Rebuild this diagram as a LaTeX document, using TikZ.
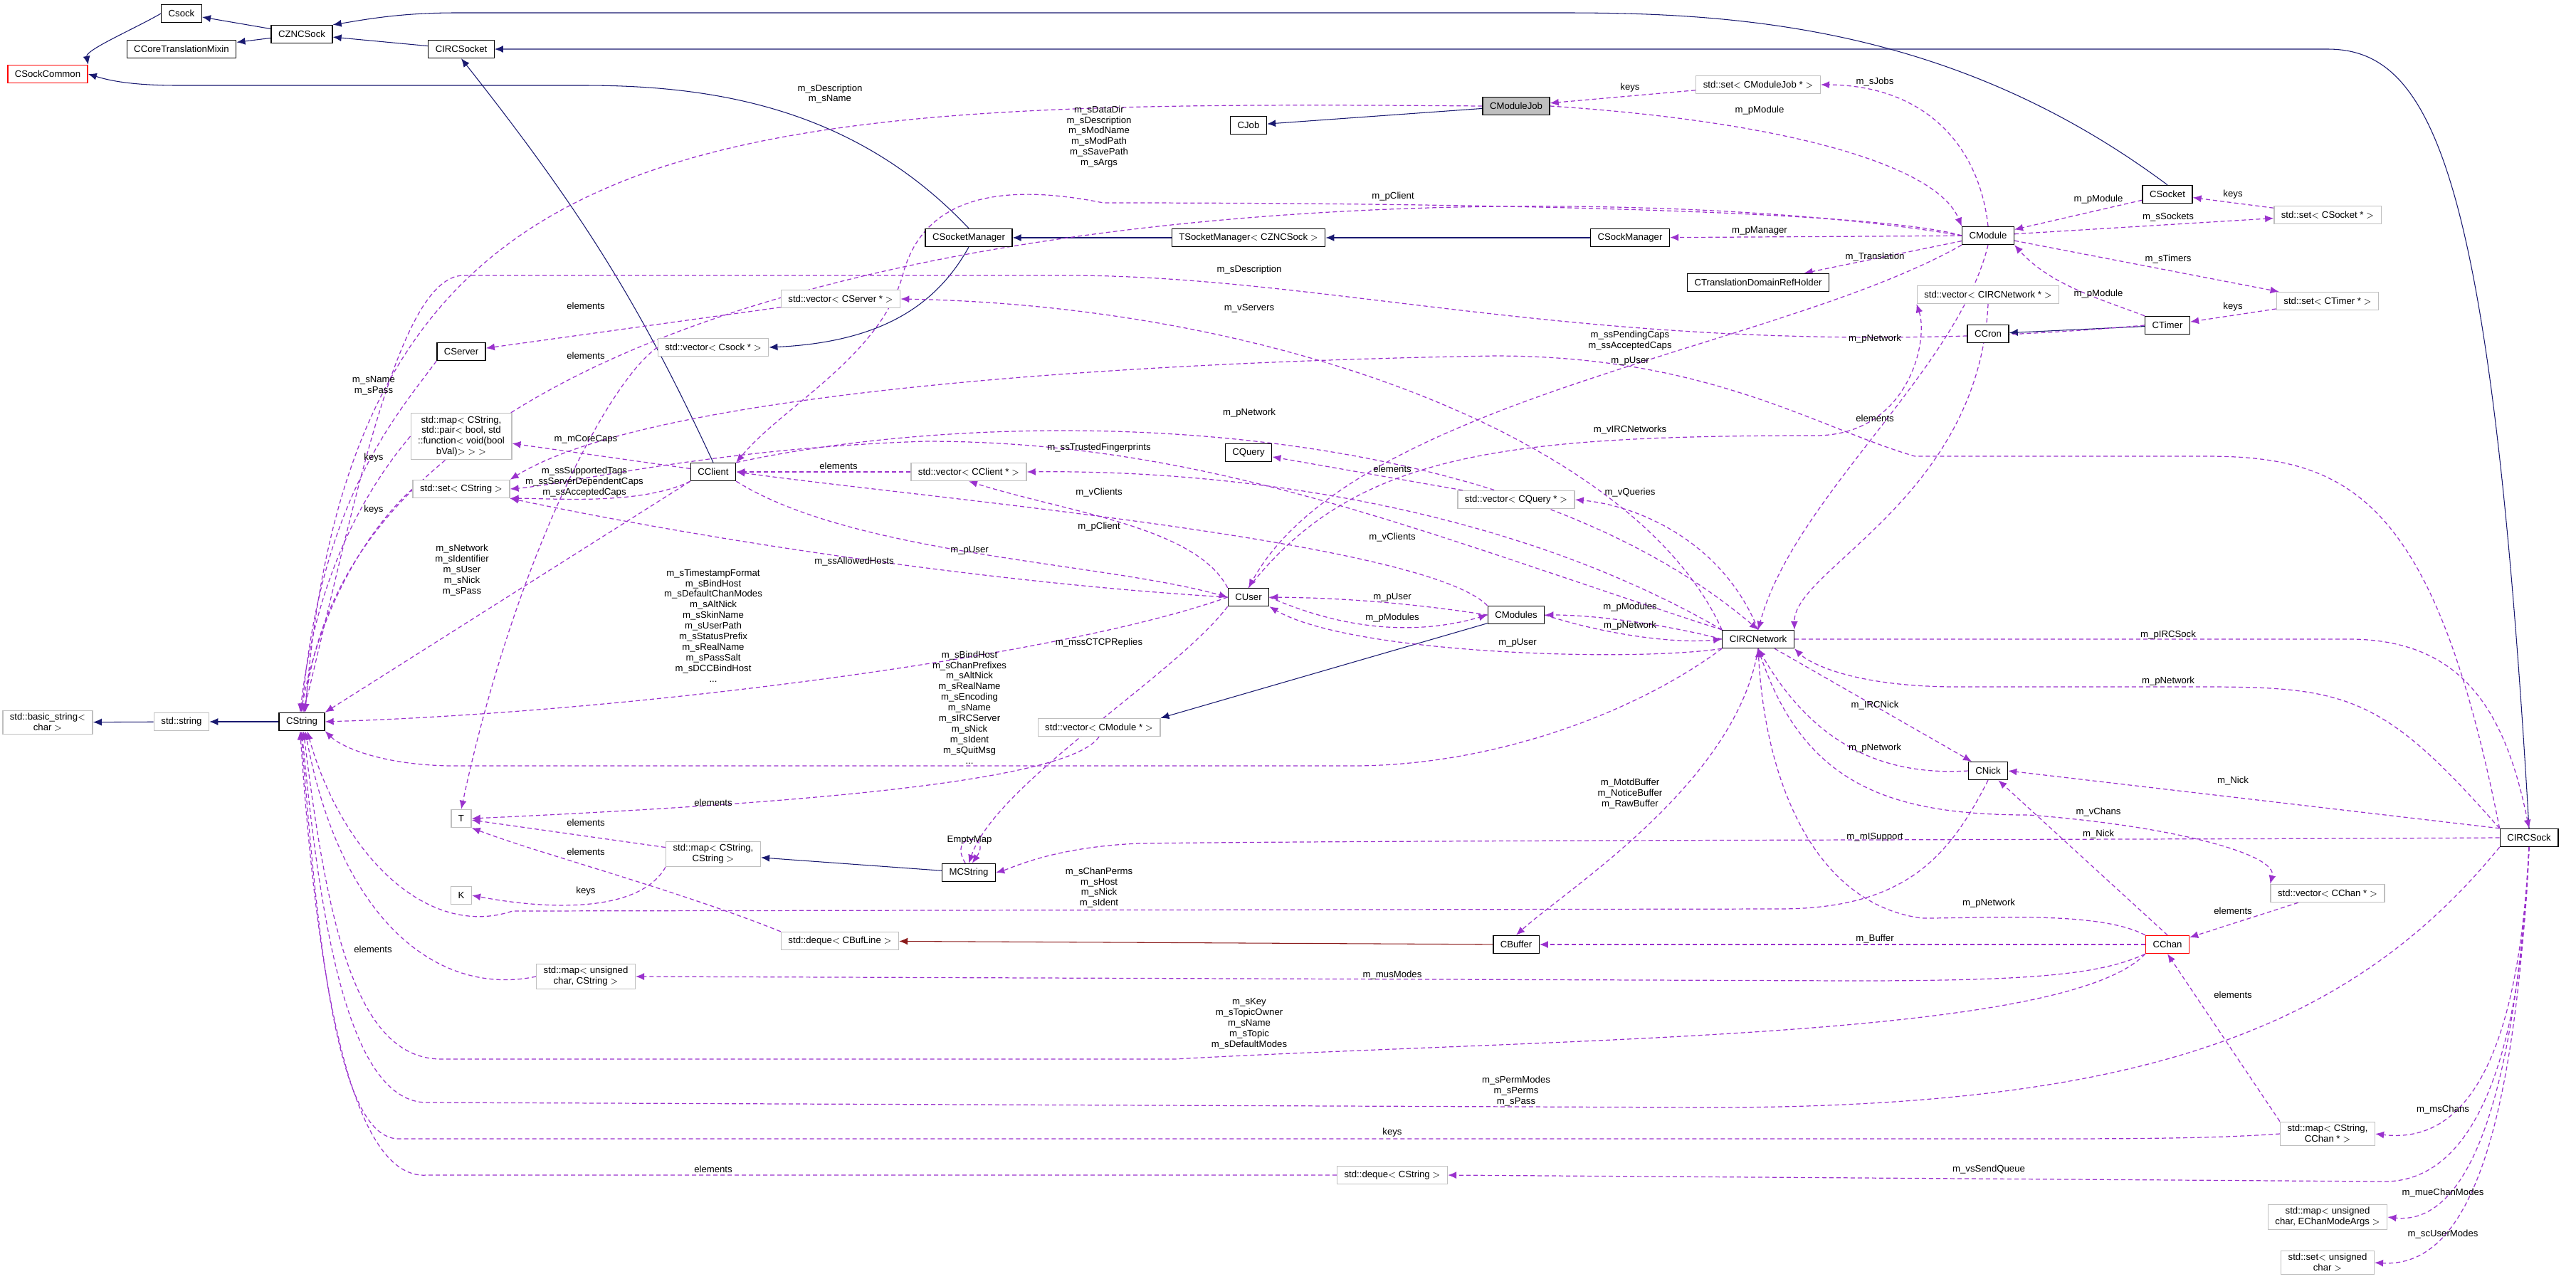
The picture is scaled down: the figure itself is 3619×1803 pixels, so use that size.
\documentclass[tikz,border=0pt]{standalone}
\usepackage{fontspec}
\setmainfont{Liberation Sans}
\usetikzlibrary{arrows.meta}
\pgfdeclarelayer{background}
\pgfsetlayers{background,main}
\definecolor{navy}{HTML}{191970}
\definecolor{orchid}{HTML}{9A32CD}
\definecolor{brick}{HTML}{8B1A1A}
\tikzset{
  cls/.style={draw=black, thick, fill=white, minimum height=0.5cm, inner xsep=0.2cm, inner ysep=0.08cm, align=center},
  tmpl/.style={cls, draw=black!25},
  redcls/.style={cls, draw=red},
  hl/.style={cls, fill=black!25},
  inh/.style={navy, line width=0.6pt, -{Latex[length=0.24cm,width=0.2cm]}},
  tinh/.style={inh, brick},
  use/.style={orchid, line width=0.7pt, dash pattern=on 0.12cm off 0.08cm, -{Latex[length=0.24cm,width=0.2cm]}},
  lbl/.style={inner sep=0pt, align=center},
}
\begin{document}
\begin{tikzpicture}[x=0.02cm, y=-0.02cm, font=\fontsize{7.5}{8.5}\selectfont]
\useasboundingbox (0,0) rectangle (3619,1803);

%classes
\node[cls] (csock) at (255,19) {Csock};
\node[cls] (zncsock) at (424,48) {CZNCSock};
\node[cls] (mixin) at (255,69) {CCoreTranslationMixin};
\node[cls] (ircsocket) at (648,69) {CIRCSocket};
\node[redcls] (sockcommon) at (67,104) {CSockCommon};
\node[hl] (modulejob) at (2130,149) {CModuleJob};
\node[cls] (job) at (1754,176) {CJob};
\node[tmpl] (setmj) at (2470,119) {std::set$<$ CModuleJob * $>$};
\node[cls] (socketmgr) at (1361,334) {CSocketManager};
\node[cls] (tsockmgr) at (1754,334) {TSocketManager$<$ CZNCSock $>$};
\node[cls] (csockmgr) at (2290,334) {CSockManager};
\node[cls] (module) at (2793,331) {CModule};
\node[cls] (socket) at (3045,273) {CSocket};
\node[tmpl] (setsock) at (3270,302) {std::set$<$ CSocket * $>$};
\node[cls] (transl) at (2470,397) {CTranslationDomainRefHolder};
\node[tmpl] (settimer) at (3270,423) {std::set$<$ CTimer * $>$};
\node[cls] (timer) at (3045,457) {CTimer};
\node[cls] (cron) at (2793,469) {CCron};
\node[tmpl] (vecnet) at (2793,414) {std::vector$<$ CIRCNetwork * $>$};
\node[tmpl] (vecserver) at (1181,420) {std::vector$<$ CServer * $>$};
\node[tmpl] (vecsock) at (1002,488) {std::vector$<$ Csock * $>$};
\node[cls] (server) at (648,494) {CServer};
\node[tmpl] (mappair) at (648,613) {std::map$<$ CString,\\std::pair$<$ bool, std\\::function$<$ void(bool\\bVal)$>$ $>$ $>$};
\node[tmpl] (setcs) at (648,687) {std::set$<$ CString $>$};
\node[cls] (client) at (1002,663) {CClient};
\node[tmpl] (veccli) at (1361,663) {std::vector$<$ CClient * $>$};
\node[cls] (query) at (1754,636) {CQuery};
\node[tmpl] (vecquery) at (2130,702) {std::vector$<$ CQuery * $>$};
\node[cls] (user) at (1754,839) {CUser};
\node[cls] (modules) at (2130,864) {CModules};
\node[cls] (ircnetwork) at (2470,898) {CIRCNetwork};
\node[tmpl] (basicstring) at (67,1015) {std::basic\_string$<$\\char $>$};
\node[tmpl] (stdstring) at (255,1014) {std::string};
\node[cls] (cstring) at (424,1014) {CString};
\node[tmpl] (vecmodule) at (1544,1022) {std::vector$<$ CModule * $>$};
\node[cls] (nick) at (2793,1083) {CNick};
\node[tmpl] (tnode) at (648,1150) {T};
\node[cls] (ircsock) at (3553,1177) {CIRCSock};
\node[tmpl] (mapss) at (1002,1200) {std::map$<$ CString,\\CString $>$};
\node[cls] (mcstring) at (1361,1226) {MCString};
\node[tmpl] (knode) at (648,1258) {K};
\node[tmpl] (vecchan) at (3270,1255) {std::vector$<$ CChan * $>$};
\node[tmpl] (dequebuf) at (1180,1322) {std::deque$<$ CBufLine $>$};
\node[cls] (buffer) at (2130,1327) {CBuffer};
\node[redcls] (chan) at (3045,1327) {CChan};
\node[tmpl] (mapucs) at (823,1372) {std::map$<$ unsigned\\char, CString $>$};
\node[tmpl] (mapschan) at (3270,1593) {std::map$<$ CString,\\CChan * $>$};
\node[tmpl] (dequecs) at (1956,1651) {std::deque$<$ CString $>$};
\node[tmpl] (mapuce) at (3270,1710) {std::map$<$ unsigned\\char, EChanModeArgs $>$};
\node[tmpl] (setuc) at (3270,1774) {std::set$<$ unsigned\\char $>$};

\begin{pgfonlayer}{background}
%inheritance
\draw[inh] (zncsock) -- (csock);
\draw[inh] (zncsock) -- (mixin);
\draw[inh] (csock.west) .. controls (190,40) and (120,70) .. (sockcommon.north east);
\draw[inh] (ircsocket) -- (zncsock);
\draw[inh] (socket.north) .. controls (2750,40) and (2450,18) .. (2200,18) -- (640,18) .. controls (560,18) and (510,28) .. (zncsock.north east);
\draw[inh] (ircsock.north) .. controls (3500,250) and (3420,69) .. (3270,69) -- (ircsocket.east);
\draw[inh] (client.north) .. controls (900,430) and (820,300) .. (ircsocket.south);
\draw[inh] (socketmgr.north) .. controls (1200,150) and (1000,120) .. (820,120) -- (250,120) .. controls (180,120) and (150,112) .. (sockcommon.east);
\draw[inh] (socketmgr.south) .. controls (1320,420) and (1250,480) .. (vecsock.east);
\draw[inh] (tsockmgr) -- (socketmgr);
\draw[inh] (csockmgr) -- (tsockmgr);
\draw[inh] (modulejob) -- (job);
\draw[inh] (timer) -- (cron);
\draw[inh] (modules) -- (vecmodule.north east);
\draw[inh] (mcstring) -- (mapss);
\draw[tinh] (buffer) -- (dequebuf);
\draw[inh] (cstring) -- (stdstring);
\draw[inh] (stdstring) -- (basicstring);

%members into CString
\draw[use] (modulejob.west) .. controls (1000,140) and (495,160) .. (cstring.70);
\draw[use] (module.west) .. controls (2200,236) and (510,250) .. (cstring.75);
\draw[use] (timer.west) .. controls (2300,520) and (1900,387) .. (1500,387) -- (650,387) .. controls (560,390) and (500,700) .. (cstring.80);
\draw[use] (server.south west) .. controls (560,580) and (450,700) .. (cstring.north);
\draw[use] (mappair.west) .. controls (520,680) and (445,800) .. (cstring.100);
\draw[use] (setcs.west) .. controls (520,740) and (450,850) .. (cstring.95);
\draw[use] (client.south west) -- (cstring.north east);
\draw[use] (user.west) .. controls (1500,920) and (900,1000) .. (cstring.east);
\draw[use] (ircnetwork.south west) .. controls (2300,1000) and (2100,1076) .. (1900,1076) -- (640,1076) .. controls (540,1076) and (480,1050) .. (cstring.south east);
\draw[use] (nick.south) .. controls (2740,1200) and (2680,1277) .. (2500,1277) -- (720,1280) .. controls (600,1320) and (480,1200) .. (cstring.-60);
\draw[use] (mapucs.west) .. controls (620,1400) and (480,1300) .. (cstring.-70);
\draw[use] (chan.south west) .. controls (2900,1460) and (2200,1458) .. (1650,1488) -- (620,1488) .. controls (500,1488) and (460,1300) .. (cstring.-80);
\draw[use] (ircsock.south west) .. controls (3300,1450) and (3000,1556) .. (2400,1556) -- (600,1549) .. controls (490,1549) and (450,1300) .. (cstring.south);
\draw[use] (mapschan.west) .. controls (3100,1600) and (3000,1600) .. (2800,1600) -- (560,1600) .. controls (470,1600) and (445,1300) .. (cstring.-95);
\draw[use] (dequecs.west) -- (600,1651) .. controls (480,1660) and (440,1300) .. (cstring.-100);

%CModule and friends
\draw[use] (setmj) -- (modulejob);
\draw[use] (modulejob.east) .. controls (2500,170) and (2720,230) .. (module.north west);
\draw[use] (module.north) .. controls (2780,200) and (2700,120) .. (setmj.east);
\draw[use] (module.west) .. controls (2600,285) and (1700,285) .. (1550,285) .. controls (1400,255) and (1300,280) .. (1270,380) .. controls (1240,500) and (1100,570) .. (client.north east);
\draw[use] (module) -- (csockmgr);
\draw[use] (module) -- (transl);
\draw[use] (module) -- (setsock);
\draw[use] (setsock) -- (socket);
\draw[use] (socket) -- (module);
\draw[use] (module) -- (settimer);
\draw[use] (settimer) -- (timer);
\draw[use] (timer.north west) .. controls (2950,420) and (2880,400) .. (module.south east);
\draw[use] (module.south west) .. controls (2500,490) and (1900,560) .. (user.north);
\draw[use] (module.south) .. controls (2750,520) and (2520,700) .. (ircnetwork.north);
\draw[use] (user.north) .. controls (1900,640) and (2100,612) .. (2550,612) .. controls (2680,612) and (2710,480) .. (vecnet.south west);
\draw[use] (vecnet.south) .. controls (2780,700) and (2520,800) .. (ircnetwork.north east);

%servers, sockets, caps
\draw[use] (ircnetwork.north west) .. controls (2300,620) and (1800,430) .. (vecserver.east);
\draw[use] (vecserver) -- (server);
\draw[use] (vecsock.west) .. controls (850,540) and (720,800) .. (tnode.north);
\draw[use] (ircsock.north west) .. controls (3420,700) and (3300,641) .. (3100,641) -- (2690,641) .. controls (2550,600) and (2400,500) .. (2100,500) .. controls (1500,510) and (900,560) .. (setcs.north east);
\draw[use] (ircnetwork.north west) .. controls (2000,750) and (1700,620) .. (1300,620) .. controls (1000,630) and (800,680) .. (setcs.east);
\draw[use] (client) -- (mappair);
\draw[use] (client.south west) .. controls (900,710) and (780,700) .. (setcs.south east);
\draw[use] (veccli) -- (client);
\draw[use] (user.north west) .. controls (1680,740) and (1500,720) .. (veccli.south);
\draw[use] (ircnetwork.north west) .. controls (2100,700) and (1700,660) .. (veccli.east);
\draw[use] (modules.north west) .. controls (2000,760) and (1300,700) .. (client.east);
\draw[use] (client.south east) .. controls (1200,780) and (1550,790) .. (user.west);
\draw[use] (client.north east) .. controls (1400,570) and (2100,570) .. (ircnetwork.north);
\draw[use] (user.west) .. controls (1400,820) and (1000,760) .. (setcs.south east);

%users, networks, modules
\draw[use] (user.east) .. controls (1900,890) and (2000,890) .. (modules.west);
\draw[use] (modules.west) .. controls (2000,850) and (1900,840) .. (user.east);
\draw[use] (ircnetwork.west) .. controls (2350,880) and (2250,864) .. (modules.east);
\draw[use] (modules.east) .. controls (2250,890) and (2350,905) .. (ircnetwork.west);
\draw[use] (ircnetwork.south west) .. controls (2300,930) and (1900,920) .. (user.south east);
\draw[use] (user.south west) .. controls (1650,950) and (1400,1100) .. (mcstring.north);
\draw[use] (mcstring.110) .. controls (1330,1170) and (1395,1170) .. (mcstring.70);
\draw[use] (vecmodule.south) .. controls (1500,1100) and (1100,1130) .. (tnode.east);
\draw[use] (mapss) -- (tnode);
\draw[use] (mapss.south west) .. controls (900,1280) and (780,1280) .. (knode.east);
\draw[use] (dequebuf.north west) .. controls (950,1250) and (760,1200) .. (tnode.south east);
\draw[use] (ircnetwork.north) .. controls (2420,760) and (2300,710) .. (vecquery.east);
\draw[use] (vecquery) -- (query);
\draw[use] (ircnetwork.south) .. controls (2440,1100) and (2200,1250) .. (buffer.north);

%network, irc socket, channels
\draw[use] (ircnetwork.east) -- (3300,898) .. controls (3460,898) and (3520,1000) .. (ircsock.north);
\draw[use] (ircsock.north west) .. controls (3350,980) and (3300,965) .. (3100,965) -- (2750,965) .. controls (2600,965) and (2540,930) .. (ircnetwork.south east);
\draw[use] (ircnetwork) -- (nick);
\draw[use] (nick.west) .. controls (2650,1090) and (2550,1050) .. (ircnetwork.south);
\draw[use] (ircnetwork.south) .. controls (2530,1100) and (2650,1145) .. (2850,1145) .. controls (3050,1160) and (3200,1200) .. (vecchan.north west);
\draw[use] (vecchan) -- (chan);
\draw[use] (chan.north west) .. controls (2950,1280) and (2800,1290) .. (2700,1290) .. controls (2550,1270) and (2480,1100) .. (ircnetwork.south);
\draw[use] (chan.north) -- (nick);
\draw[use] (ircsock.north west) -- (nick.east);
\draw[use] (ircsock.west) .. controls (3000,1180) and (2000,1180) .. (1600,1185) .. controls (1480,1190) and (1420,1220) .. (mcstring.east);
\draw[use] (chan) -- (buffer);
\draw[use] (chan.south west) .. controls (2950,1370) and (2850,1378) .. (2600,1378) -- (mapucs.east);
\draw[use] (mapschan.north west) -- (chan.south);
\draw[use] (ircsock.south) .. controls (3540,1450) and (3480,1610) .. (mapschan.east);
\draw[use] (ircsock.south) .. controls (3540,1550) and (3450,1660) .. (3350,1660) -- (dequecs.east);
\draw[use] (ircsock.south) .. controls (3530,1600) and (3450,1720) .. (mapuce.east);
\draw[use] (ircsock.south) .. controls (3530,1650) and (3450,1780) .. (setuc.east);
\end{pgfonlayer}

%labels
\node[lbl] (l1) at (1166,132) {m\_sDescription\\m\_sName};
\node[lbl] (l2) at (1544,192) {m\_sDataDir\\m\_sDescription\\m\_sModName\\m\_sModPath\\m\_sSavePath\\m\_sArgs};
\node[lbl] (l3) at (1755,379) {m\_sDescription};
\node[lbl] (l4) at (525,542) {m\_sName\\m\_sPass};
\node[lbl] (l5) at (525,643) {keys};
\node[lbl] (l6) at (525,716) {keys};
\node[lbl] (l7) at (649,801) {m\_sNetwork\\m\_sIdentifier\\m\_sUser\\m\_sNick\\m\_sPass};
\node[lbl] (l8) at (1002,879) {m\_sTimestampFormat\\m\_sBindHost\\m\_sDefaultChanModes\\m\_sAltNick\\m\_sSkinName\\m\_sUserPath\\m\_sStatusPrefix\\m\_sRealName\\m\_sPassSalt\\m\_sDCCBindHost\\...};
\node[lbl] (l9) at (1362,994) {m\_sBindHost\\m\_sChanPrefixes\\m\_sAltNick\\m\_sRealName\\m\_sEncoding\\m\_sName\\m\_sIRCServer\\m\_sNick\\m\_sIdent\\m\_sQuitMsg\\...};
\node[lbl] (l10) at (1544,1247) {m\_sChanPerms\\m\_sHost\\m\_sNick\\m\_sIdent};
\node[lbl] (l11) at (524,1334) {elements};
\node[lbl] (l12) at (1755,1438) {m\_sKey\\m\_sTopicOwner\\m\_sName\\m\_sTopic\\m\_sDefaultModes};
\node[lbl] (l13) at (2130,1533) {m\_sPermModes\\m\_sPerms\\m\_sPass};
\node[lbl] (l14) at (1956,1591) {keys};
\node[lbl] (l15) at (1002,1643) {elements};
\node[lbl] (l16) at (2290,123) {keys};
\node[lbl] (l17) at (2472,155) {m\_pModule};
\node[lbl] (l18) at (2634,115) {m\_sJobs};
\node[lbl] (l19) at (1957,276) {m\_pClient};
\node[lbl] (l20) at (2472,324) {m\_pManager};
\node[lbl] (l21) at (2634,361) {m\_Translation};
\node[lbl] (l22) at (3046,305) {m\_sSockets};
\node[lbl] (l23) at (3137,273) {keys};
\node[lbl] (l24) at (2948,280) {m\_pModule};
\node[lbl] (l25) at (3046,364) {m\_sTimers};
\node[lbl] (l26) at (3137,431) {keys};
\node[lbl] (l27) at (2948,413) {m\_pModule};
\node[lbl] (l28) at (2290,507) {m\_pUser};
\node[lbl] (l29) at (2634,476) {m\_pNetwork};
\node[lbl] (l30) at (2290,604) {m\_vIRCNetworks};
\node[lbl] (l31) at (2634,588) {elements};
\node[lbl] (l32) at (1755,433) {m\_vServers};
\node[lbl] (l33) at (823,430) {elements};
\node[lbl] (l34) at (823,500) {elements};
\node[lbl] (l35) at (2290,479) {m\_ssPendingCaps\\m\_ssAcceptedCaps};
\node[lbl] (l36) at (1544,629) {m\_ssTrustedFingerprints};
\node[lbl] (l37) at (823,617) {m\_mCoreCaps};
\node[lbl] (l38) at (821,677) {m\_ssSupportedTags\\m\_ssServerDependentCaps\\m\_ssAcceptedCaps};
\node[lbl] (l39) at (1178,655) {elements};
\node[lbl] (l40) at (1544,692) {m\_vClients};
\node[lbl] (l41) at (1956,755) {m\_vClients};
\node[lbl] (l42) at (1544,740) {m\_pClient};
\node[lbl] (l43) at (1362,773) {m\_pUser};
\node[lbl] (l44) at (1755,580) {m\_pNetwork};
\node[lbl] (l45) at (1200,789) {m\_ssAllowedHosts};
\node[lbl] (l46) at (1956,839) {m\_pUser};
\node[lbl] (l47) at (1956,868) {m\_pModules};
\node[lbl] (l48) at (2290,853) {m\_pModules};
\node[lbl] (l49) at (2290,879) {m\_pNetwork};
\node[lbl] (l50) at (2132,903) {m\_pUser};
\node[lbl] (l51) at (1544,903) {m\_mssCTCPReplies};
\node[lbl] (l52) at (1362,1180) {EmptyMap};
\node[lbl] (l53) at (1002,1128) {elements};
\node[lbl] (l54) at (823,1156) {elements};
\node[lbl] (l55) at (823,1252) {keys};
\node[lbl] (l56) at (823,1197) {elements};
\node[lbl] (l57) at (2290,692) {m\_vQueries};
\node[lbl] (l58) at (1956,659) {elements};
\node[lbl] (l59) at (2290,1115) {m\_MotdBuffer\\m\_NoticeBuffer\\m\_RawBuffer};
\node[lbl] (l60) at (3046,892) {m\_pIRCSock};
\node[lbl] (l61) at (3046,957) {m\_pNetwork};
\node[lbl] (l62) at (2634,991) {m\_IRCNick};
\node[lbl] (l63) at (2634,1051) {m\_pNetwork};
\node[lbl] (l64) at (3137,1097) {m\_Nick};
\node[lbl] (l65) at (2948,1141) {m\_vChans};
\node[lbl] (l66) at (2948,1172) {m\_Nick};
\node[lbl] (l67) at (2634,1176) {m\_mISupport};
\node[lbl] (l68) at (2794,1269) {m\_pNetwork};
\node[lbl] (l69) at (3137,1280) {elements};
\node[lbl] (l70) at (2634,1319) {m\_Buffer};
\node[lbl] (l71) at (1956,1370) {m\_musModes};
\node[lbl] (l72) at (3137,1398) {elements};
\node[lbl] (l73) at (3432,1559) {m\_msChans};
\node[lbl] (l74) at (2794,1643) {m\_vsSendQueue};
\node[lbl] (l75) at (3432,1676) {m\_mueChanModes};
\node[lbl] (l76) at (3432,1734) {m\_scUserModes};
\end{tikzpicture}
\end{document}
